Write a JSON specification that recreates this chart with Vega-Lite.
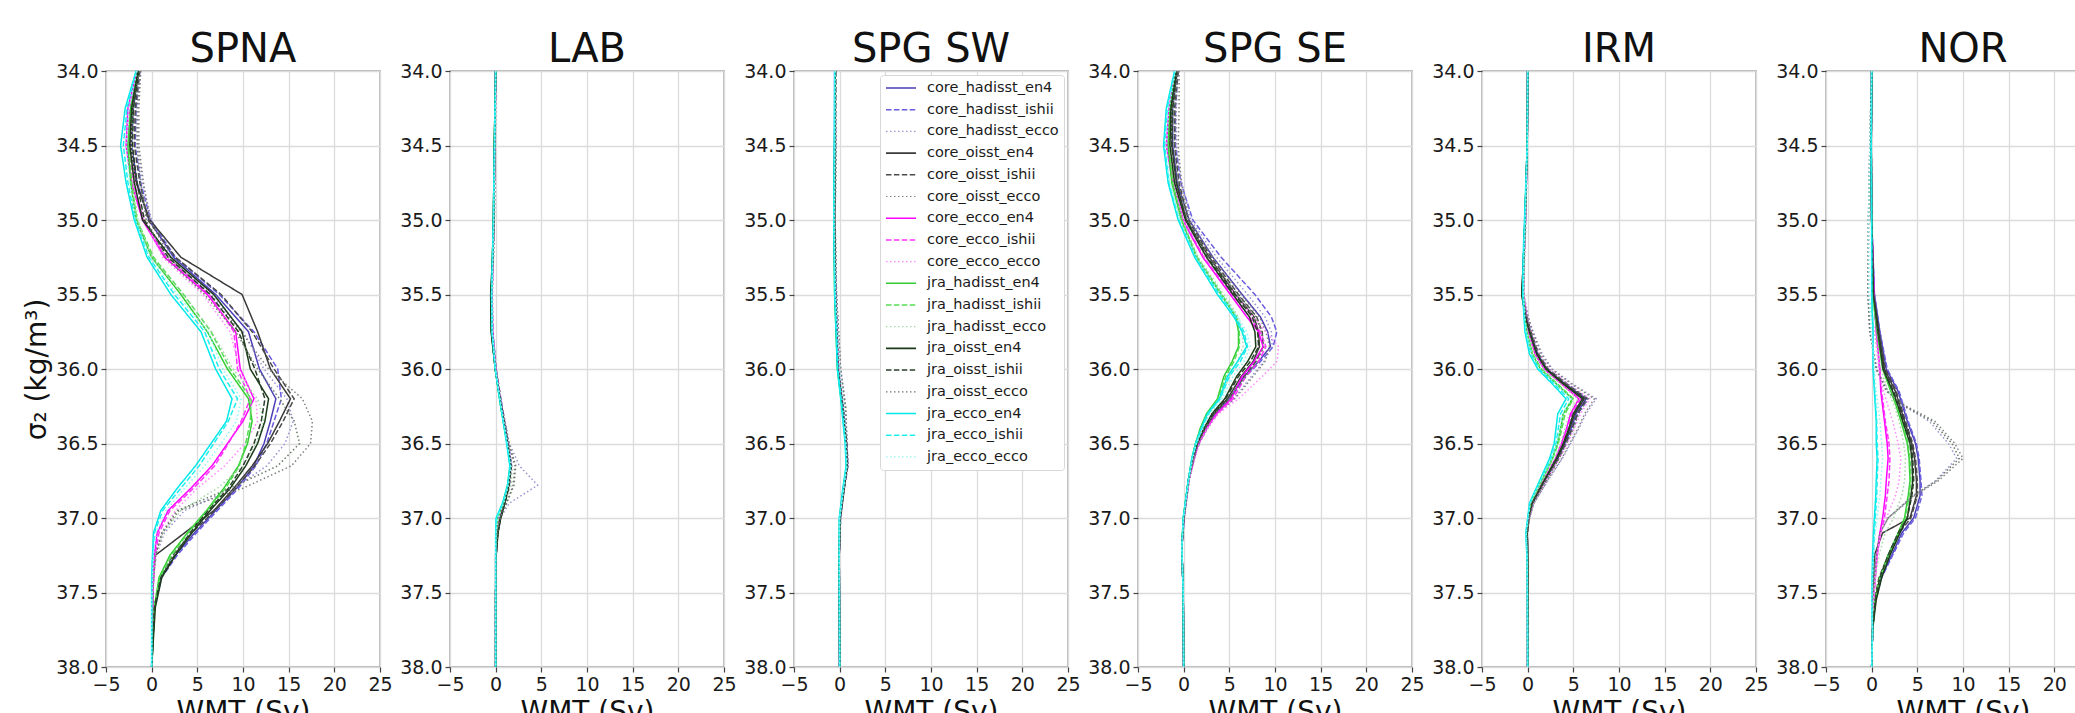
{
"$schema":"https://vega.github.io/schema/vega-lite/v6.json",
"background":"white",
"padding":{"left":23,"top":29,"right":0,"bottom":0},
"bounds":"flush",
"spacing":70,
"datasets":{"wmt":[
{"reg":"SPNA","y":34,"a":-1.4,"b":-1.3,"c":-1.2,"d":-1.4,"e":-1.3,"f":-1.2,"g":-1.6,"h":-1.5,"i":-1.4,"j":-1.5,"k":-1.5,"l":-1.4,"m":-1.5,"n":-1.4,"o":-1.3,"p":-1.7,"q":-1.7,"r":-1.6},
{"reg":"SPNA","y":34.25,"a":-2.0,"b":-1.7,"c":-1.5,"d":-2.1,"e":-1.8,"f":-1.4,"g":-2.6,"h":-2.4,"i":-2.2,"j":-2.3,"k":-2.2,"l":-2.0,"m":-2.2,"n":-2.0,"o":-1.6,"p":-2.9,"q":-2.7,"r":-2.5},
{"reg":"SPNA","y":34.5,"a":-2.2,"b":-1.8,"c":-1.5,"d":-2.3,"e":-1.9,"f":-1.4,"g":-2.8,"h":-2.6,"i":-2.3,"j":-2.6,"k":-2.5,"l":-2.2,"m":-2.4,"n":-2.1,"o":-1.6,"p":-3.4,"q":-3.1,"r":-2.8},
{"reg":"SPNA","y":34.75,"a":-1.6,"b":-1.2,"c":-1.0,"d":-1.7,"e":-1.3,"f":-0.9,"g":-2.2,"h":-2.0,"i":-1.8,"j":-2.3,"k":-2.2,"l":-2.0,"m":-1.9,"n":-1.6,"o":-1.2,"p":-2.8,"q":-2.6,"r":-2.4},
{"reg":"SPNA","y":35,"a":-0.3,"b":-0.1,"c":0,"d":-0.2,"e":-0.4,"f":-0.2,"g":-1.0,"h":-0.9,"i":-0.8,"j":-1.7,"k":-1.6,"l":-1.5,"m":-1.0,"n":-0.8,"o":-0.6,"p":-1.9,"q":-1.8,"r":-1.7},
{"reg":"SPNA","y":35.25,"a":2.4,"b":2.6,"c":2.2,"d":3.2,"e":2.6,"f":2.0,"g":1.4,"h":1.6,"i":1.2,"j":0,"k":0.2,"l":0,"m":2.1,"n":1.8,"o":1.5,"p":-0.5,"q":-0.3,"r":-0.2},
{"reg":"SPNA","y":35.5,"a":7.0,"b":7.4,"c":6.5,"d":9.9,"e":7.6,"f":6.2,"g":6.1,"h":6.3,"i":5.6,"j":3.2,"k":3.5,"l":3.4,"m":6.8,"n":6.4,"o":5.8,"p":2.1,"q":2.5,"r":2.8},
{"reg":"SPNA","y":35.75,"a":10.6,"b":11.2,"c":10.0,"d":11.6,"e":11.0,"f":9.8,"g":9.2,"h":9.0,"i":8.6,"j":6.1,"k":6.5,"l":6.6,"m":9.9,"n":9.5,"o":9.2,"p":5.4,"q":5.8,"r":6.2},
{"reg":"SPNA","y":36,"a":11.8,"b":13.8,"c":12.3,"d":13.0,"e":13.4,"f":12.8,"g":9.7,"h":9.4,"i":9.6,"j":8.3,"k":8.6,"l":8.9,"m":10.8,"n":11.3,"o":11.6,"p":7.0,"q":7.4,"r":7.8},
{"reg":"SPNA","y":36.2,"a":13.6,"b":14.2,"c":14.8,"d":15.2,"e":15.6,"f":16.5,"g":11.2,"h":10.8,"i":11.4,"j":10.6,"k":10.9,"l":11.6,"m":12.8,"n":12.4,"o":14.0,"p":8.8,"q":9.4,"r":9.8},
{"reg":"SPNA","y":36.35,"a":13.0,"b":13.4,"c":15.5,"d":14.0,"e":14.4,"f":17.6,"g":10.0,"h":9.8,"i":11.6,"j":11.0,"k":10.8,"l":12.3,"m":12.4,"n":12.0,"o":15.6,"p":8.2,"q":8.4,"r":9.3},
{"reg":"SPNA","y":36.5,"a":12.3,"b":12.6,"c":14.6,"d":12.7,"e":13.0,"f":17.4,"g":8.3,"h":8.4,"i":10.2,"j":10.5,"k":10.3,"l":11.4,"m":11.6,"n":11.2,"o":16.2,"p":6.5,"q":6.8,"r":7.6},
{"reg":"SPNA","y":36.65,"a":11.2,"b":11.4,"c":12.6,"d":11.0,"e":11.3,"f":15.3,"g":6.6,"h":6.9,"i":8.0,"j":9.5,"k":9.6,"l":10.0,"m":10.3,"n":10.0,"o":13.8,"p":4.8,"q":5.2,"r":5.8},
{"reg":"SPNA","y":36.8,"a":9.3,"b":9.5,"c":9.0,"d":9.0,"e":9.2,"f":10.0,"g":4.3,"h":4.6,"i":5.0,"j":7.9,"k":8.1,"l":7.2,"m":8.6,"n":8.4,"o":8.6,"p":2.8,"q":3.2,"r":3.6},
{"reg":"SPNA","y":36.95,"a":7.0,"b":7.2,"c":3.6,"d":6.8,"e":6.9,"f":3.0,"g":1.8,"h":2.0,"i":2.6,"j":6.0,"k":6.1,"l":3.2,"m":6.4,"n":6.2,"o":2.8,"p":1.0,"q":1.2,"r":1.6},
{"reg":"SPNA","y":37.1,"a":4.7,"b":4.9,"c":1.4,"d":3.6,"e":4.4,"f":1.2,"g":0.6,"h":0.8,"i":1.1,"j":3.9,"k":4.0,"l":1.2,"m":4.4,"n":4.2,"o":1.1,"p":0.2,"q":0.3,"r":0.5},
{"reg":"SPNA","y":37.25,"a":2.6,"b":2.8,"c":0.5,"d":0.4,"e":2.3,"f":0.4,"g":0.3,"h":0.4,"i":0.5,"j":2.0,"k":2.2,"l":0.5,"m":2.6,"n":2.5,"o":0.4,"p":0.1,"q":0.1,"r":0.2},
{"reg":"SPNA","y":37.4,"a":1.0,"b":1.1,"c":0.2,"d":0.2,"e":0.9,"f":0.2,"g":0.2,"h":0.2,"i":0.2,"j":0.8,"k":0.9,"l":0.2,"m":1.1,"n":1.0,"o":0.2,"p":0,"q":0,"r":0.1},
{"reg":"SPNA","y":37.6,"a":0.3,"b":0.3,"c":0.1,"d":0.1,"e":0.3,"f":0.1,"g":0.1,"h":0.1,"i":0.1,"j":0.3,"k":0.3,"l":0.1,"m":0.4,"n":0.3,"o":0.1,"p":0,"q":0,"r":0},
{"reg":"SPNA","y":38,"a":0,"b":0,"c":0,"d":0,"e":0,"f":0,"g":0,"h":0,"i":0,"j":0,"k":0,"l":0,"m":0,"n":0,"o":0,"p":0,"q":0,"r":0},

{"reg":"LAB","y":34,"a":0,"b":0,"c":0,"d":0,"e":0,"f":0,"g":0,"h":0,"i":0,"j":0,"k":0,"l":0,"m":0,"n":0,"o":0,"p":0,"q":0,"r":0},
{"reg":"LAB","y":34.5,"a":-0.1,"b":-0.1,"c":-0.05,"d":-0.15,"e":-0.1,"f":-0.05,"g":-0.1,"h":-0.1,"i":-0.05,"j":-0.15,"k":-0.1,"l":-0.1,"m":-0.15,"n":-0.1,"o":-0.05,"p":-0.15,"q":-0.1,"r":-0.1},
{"reg":"LAB","y":35,"a":-0.2,"b":-0.2,"c":-0.15,"d":-0.25,"e":-0.2,"f":-0.15,"g":-0.2,"h":-0.2,"i":-0.15,"j":-0.25,"k":-0.2,"l":-0.2,"m":-0.25,"n":-0.2,"o":-0.15,"p":-0.25,"q":-0.25,"r":-0.2},
{"reg":"LAB","y":35.25,"a":-0.3,"b":-0.3,"c":-0.25,"d":-0.35,"e":-0.3,"f":-0.25,"g":-0.3,"h":-0.3,"i":-0.25,"j":-0.35,"k":-0.3,"l":-0.3,"m":-0.35,"n":-0.3,"o":-0.25,"p":-0.35,"q":-0.35,"r":-0.3},
{"reg":"LAB","y":35.5,"a":-0.45,"b":-0.4,"c":-0.35,"d":-0.5,"e":-0.45,"f":-0.4,"g":-0.4,"h":-0.4,"i":-0.35,"j":-0.5,"k":-0.45,"l":-0.45,"m":-0.55,"n":-0.5,"o":-0.4,"p":-0.45,"q":-0.45,"r":-0.4},
{"reg":"LAB","y":35.75,"a":-0.35,"b":-0.3,"c":-0.3,"d":-0.45,"e":-0.4,"f":-0.3,"g":-0.35,"h":-0.35,"i":-0.3,"j":-0.45,"k":-0.4,"l":-0.4,"m":-0.5,"n":-0.45,"o":-0.35,"p":-0.4,"q":-0.4,"r":-0.35},
{"reg":"LAB","y":36,"a":0,"b":0.05,"c":0.05,"d":-0.05,"e":0,"f":0.05,"g":0,"h":0,"i":0.05,"j":-0.05,"k":-0.05,"l":0,"m":-0.05,"n":-0.05,"o":0.05,"p":-0.05,"q":-0.05,"r":0},
{"reg":"LAB","y":36.25,"a":0.65,"b":0.7,"c":0.7,"d":0.6,"e":0.65,"f":0.7,"g":0.6,"h":0.6,"i":0.65,"j":0.55,"k":0.55,"l":0.6,"m":0.6,"n":0.6,"o":0.65,"p":0.55,"q":0.55,"r":0.6},
{"reg":"LAB","y":36.5,"a":1.35,"b":1.4,"c":1.5,"d":1.3,"e":1.35,"f":1.45,"g":1.3,"h":1.3,"i":1.4,"j":1.25,"k":1.25,"l":1.35,"m":1.3,"n":1.3,"o":1.45,"p":1.2,"q":1.25,"r":1.3},
{"reg":"LAB","y":36.65,"a":1.7,"b":1.75,"c":2.6,"d":1.65,"e":1.7,"f":2.1,"g":1.65,"h":1.65,"i":1.8,"j":1.6,"k":1.6,"l":1.8,"m":1.65,"n":1.7,"o":2.2,"p":1.55,"q":1.6,"r":1.7},
{"reg":"LAB","y":36.78,"a":1.4,"b":1.45,"c":4.6,"d":1.4,"e":1.45,"f":1.9,"g":1.35,"h":1.4,"i":1.6,"j":1.3,"k":1.35,"l":1.7,"m":1.45,"n":1.5,"o":2.0,"p":1.3,"q":1.3,"r":1.4},
{"reg":"LAB","y":36.9,"a":0.9,"b":0.95,"c":1.5,"d":1.0,"e":1.0,"f":1.2,"g":0.85,"h":0.9,"i":1.0,"j":0.8,"k":0.85,"l":1.0,"m":1.0,"n":1.0,"o":1.2,"p":0.75,"q":0.8,"r":0.9},
{"reg":"LAB","y":37,"a":0.45,"b":0.5,"c":0.5,"d":0.55,"e":0.5,"f":0.5,"g":0.3,"h":0.35,"i":0.4,"j":0.2,"k":0.25,"l":0.35,"m":0.55,"n":0.5,"o":0.5,"p":0.05,"q":0.1,"r":0.2},
{"reg":"LAB","y":37.1,"a":0.2,"b":0.2,"c":0.2,"d":0.25,"e":0.2,"f":0.2,"g":0.1,"h":0.1,"i":0.15,"j":0.05,"k":0.1,"l":0.1,"m":0.25,"n":0.2,"o":0.2,"p":0,"q":0,"r":0.05},
{"reg":"LAB","y":37.25,"a":0.05,"b":0.05,"c":0.05,"d":0.05,"e":0.05,"f":0.05,"g":0,"h":0,"i":0,"j":0,"k":0,"l":0,"m":0.05,"n":0.05,"o":0.05,"p":0,"q":0,"r":0},
{"reg":"LAB","y":37.5,"a":0,"b":0,"c":0,"d":0,"e":0,"f":0,"g":0,"h":0,"i":0,"j":0,"k":0,"l":0,"m":0,"n":0,"o":0,"p":0,"q":0,"r":0},
{"reg":"LAB","y":38,"a":0,"b":0,"c":0,"d":0,"e":0,"f":0,"g":0,"h":0,"i":0,"j":0,"k":0,"l":0,"m":0,"n":0,"o":0,"p":0,"q":0,"r":0},

{"reg":"SPG SW","y":34,"a":-0.5,"b":-0.45,"c":-0.45,"d":-0.5,"e":-0.45,"f":-0.45,"g":-0.55,"h":-0.5,"i":-0.5,"j":-0.5,"k":-0.5,"l":-0.45,"m":-0.5,"n":-0.45,"o":-0.45,"p":-0.55,"q":-0.55,"r":-0.5},
{"reg":"SPG SW","y":34.5,"a":-0.5,"b":-0.45,"c":-0.4,"d":-0.55,"e":-0.5,"f":-0.4,"g":-0.55,"h":-0.5,"i":-0.45,"j":-0.55,"k":-0.5,"l":-0.45,"m":-0.55,"n":-0.5,"o":-0.4,"p":-0.6,"q":-0.55,"r":-0.5},
{"reg":"SPG SW","y":35,"a":-0.6,"b":-0.55,"c":-0.5,"d":-0.6,"e":-0.55,"f":-0.5,"g":-0.65,"h":-0.6,"i":-0.55,"j":-0.65,"k":-0.6,"l":-0.55,"m":-0.6,"n":-0.55,"o":-0.5,"p":-0.65,"q":-0.65,"r":-0.6},
{"reg":"SPG SW","y":35.5,"a":-0.45,"b":-0.4,"c":-0.35,"d":-0.5,"e":-0.45,"f":-0.35,"g":-0.5,"h":-0.45,"i":-0.4,"j":-0.55,"k":-0.5,"l":-0.45,"m":-0.5,"n":-0.45,"o":-0.35,"p":-0.55,"q":-0.5,"r":-0.45},
{"reg":"SPG SW","y":36,"a":-0.15,"b":-0.1,"c":0.1,"d":-0.2,"e":-0.15,"f":0.1,"g":-0.15,"h":-0.1,"i":0.05,"j":-0.25,"k":-0.2,"l":0,"m":-0.2,"n":-0.15,"o":0.1,"p":-0.25,"q":-0.2,"r":0},
{"reg":"SPG SW","y":36.25,"a":0.35,"b":0.4,"c":0.65,"d":0.3,"e":0.35,"f":0.65,"g":0.3,"h":0.35,"i":0.55,"j":0.25,"k":0.3,"l":0.5,"m":0.3,"n":0.35,"o":0.6,"p":0.2,"q":0.25,"r":0.45},
{"reg":"SPG SW","y":36.5,"a":0.75,"b":0.8,"c":0.8,"d":0.7,"e":0.75,"f":0.8,"g":0.7,"h":0.75,"i":0.8,"j":0.65,"k":0.7,"l":0.75,"m":0.7,"n":0.75,"o":0.8,"p":0.6,"q":0.65,"r":0.7},
{"reg":"SPG SW","y":36.65,"a":0.85,"b":0.9,"c":0.9,"d":0.8,"e":0.85,"f":0.9,"g":0.8,"h":0.85,"i":0.9,"j":0.75,"k":0.8,"l":0.85,"m":0.8,"n":0.85,"o":0.9,"p":0.7,"q":0.75,"r":0.8},
{"reg":"SPG SW","y":36.8,"a":0.45,"b":0.5,"c":0.5,"d":0.45,"e":0.5,"f":0.5,"g":0.4,"h":0.45,"i":0.5,"j":0.4,"k":0.4,"l":0.45,"m":0.45,"n":0.5,"o":0.5,"p":0.35,"q":0.4,"r":0.45},
{"reg":"SPG SW","y":37,"a":0.05,"b":0.1,"c":0.1,"d":0.05,"e":0.05,"f":0.1,"g":0,"h":0.05,"i":0.05,"j":0,"k":0,"l":0.05,"m":0.05,"n":0.05,"o":0.1,"p":-0.05,"q":0,"r":0},
{"reg":"SPG SW","y":37.25,"a":-0.05,"b":-0.05,"c":-0.05,"d":-0.05,"e":-0.05,"f":-0.05,"g":-0.05,"h":-0.05,"i":-0.05,"j":-0.05,"k":-0.05,"l":-0.05,"m":-0.05,"n":-0.05,"o":-0.05,"p":-0.05,"q":-0.05,"r":-0.05},
{"reg":"SPG SW","y":38,"a":0,"b":0,"c":0,"d":0,"e":0,"f":0,"g":0,"h":0,"i":0,"j":0,"k":0,"l":0,"m":0,"n":0,"o":0,"p":0,"q":0,"r":0},

{"reg":"SPG SE","y":34,"a":-0.7,"b":-0.6,"c":-0.6,"d":-0.7,"e":-0.6,"f":-0.5,"g":-0.9,"h":-0.85,"i":-0.8,"j":-0.85,"k":-0.8,"l":-0.75,"m":-0.8,"n":-0.75,"o":-0.7,"p":-1.0,"q":-0.95,"r":-0.9},
{"reg":"SPG SE","y":34.25,"a":-1.2,"b":-0.9,"c":-0.8,"d":-1.3,"e":-1.0,"f":-0.5,"g":-1.6,"h":-1.5,"i":-1.3,"j":-1.5,"k":-1.4,"l":-1.2,"m":-1.4,"n":-1.2,"o":-0.9,"p":-1.9,"q":-1.8,"r":-1.6},
{"reg":"SPG SE","y":34.5,"a":-1.2,"b":-0.9,"c":-0.8,"d":-1.3,"e":-1.0,"f":-0.6,"g":-1.9,"h":-1.8,"i":-1.6,"j":-1.7,"k":-1.6,"l":-1.4,"m":-1.5,"n":-1.3,"o":-1.0,"p":-2.2,"q":-2.1,"r":-1.9},
{"reg":"SPG SE","y":34.75,"a":-0.7,"b":-0.3,"c":-0.2,"d":-0.8,"e":-0.5,"f":-0.25,"g":-1.2,"h":-1.1,"i":-1.0,"j":-1.3,"k":-1.2,"l":-1.1,"m":-1.0,"n":-0.8,"o":-0.6,"p":-1.7,"q":-1.6,"r":-1.5},
{"reg":"SPG SE","y":35,"a":0.6,"b":1.0,"c":0.8,"d":0.3,"e":0.5,"f":0.6,"g":-0.1,"h":0,"i":0.1,"j":-0.25,"k":-0.2,"l":-0.1,"m":0.2,"n":0.3,"o":0.4,"p":-0.6,"q":-0.5,"r":-0.4},
{"reg":"SPG SE","y":35.25,"a":3.2,"b":4.1,"c":3.6,"d":2.8,"e":3.0,"f":3.2,"g":2.1,"h":2.2,"i":2.3,"j":1.4,"k":1.5,"l":1.6,"m":2.5,"n":2.6,"o":2.7,"p":1.2,"q":1.3,"r":1.4},
{"reg":"SPG SE","y":35.5,"a":6.4,"b":7.8,"c":7.0,"d":5.7,"e":6.0,"f":6.3,"g":5.1,"h":5.3,"i":5.6,"j":4.1,"k":4.2,"l":4.4,"m":5.4,"n":5.6,"o":5.9,"p":3.7,"q":3.9,"r":4.1},
{"reg":"SPG SE","y":35.65,"a":8.4,"b":9.6,"c":8.9,"d":7.7,"e":8.0,"f":8.3,"g":6.9,"h":7.2,"i":7.6,"j":5.7,"k":5.8,"l":6.0,"m":7.2,"n":7.5,"o":7.9,"p":5.5,"q":5.7,"r":5.9},
{"reg":"SPG SE","y":35.75,"a":9.2,"b":10.2,"c":9.6,"d":8.2,"e":8.6,"f":9.0,"g":8.2,"h":8.4,"i":9.0,"j":6.0,"k":6.1,"l":6.4,"m":7.8,"n":8.1,"o":8.5,"p":6.4,"q":6.6,"r":6.9},
{"reg":"SPG SE","y":35.85,"a":9.5,"b":9.8,"c":9.7,"d":8.3,"e":8.7,"f":9.4,"g":8.7,"h":9.0,"i":10.4,"j":6.0,"k":6.1,"l":6.5,"m":7.9,"n":8.2,"o":8.8,"p":6.9,"q":7.0,"r":7.3},
{"reg":"SPG SE","y":35.95,"a":8.2,"b":8.4,"c":8.8,"d":7.6,"e":7.9,"f":8.9,"g":7.7,"h":8.2,"i":10.2,"j":5.3,"k":5.5,"l":5.9,"m":7.0,"n":7.3,"o":8.0,"p":5.9,"q":6.2,"r":6.6},
{"reg":"SPG SE","y":36.05,"a":6.6,"b":6.8,"c":7.4,"d":6.3,"e":6.6,"f":7.6,"g":6.4,"h":6.8,"i":8.6,"j":4.4,"k":4.6,"l":5.0,"m":5.8,"n":6.0,"o":6.8,"p":4.8,"q":5.0,"r":5.4},
{"reg":"SPG SE","y":36.2,"a":5.0,"b":5.1,"c":5.5,"d":4.8,"e":5.0,"f":5.6,"g":5.2,"h":5.4,"i":6.0,"j":3.7,"k":3.8,"l":4.0,"m":4.5,"n":4.6,"o":5.0,"p":3.9,"q":4.0,"r":4.2},
{"reg":"SPG SE","y":36.3,"a":3.4,"b":3.5,"c":3.7,"d":3.3,"e":3.4,"f":3.7,"g":3.6,"h":3.7,"i":3.8,"j":2.5,"k":2.6,"l":2.8,"m":3.1,"n":3.2,"o":3.4,"p":2.6,"q":2.7,"r":2.9},
{"reg":"SPG SE","y":36.4,"a":2.4,"b":2.5,"c":2.6,"d":2.4,"e":2.4,"f":2.6,"g":2.5,"h":2.5,"i":2.6,"j":1.8,"k":1.9,"l":2.0,"m":2.2,"n":2.3,"o":2.4,"p":1.9,"q":2.0,"r":2.1},
{"reg":"SPG SE","y":36.5,"a":1.6,"b":1.7,"c":1.7,"d":1.6,"e":1.6,"f":1.7,"g":1.6,"h":1.6,"i":1.7,"j":1.3,"k":1.3,"l":1.4,"m":1.5,"n":1.5,"o":1.6,"p":1.3,"q":1.4,"r":1.4},
{"reg":"SPG SE","y":36.6,"a":1.1,"b":1.1,"c":1.2,"d":1.1,"e":1.1,"f":1.2,"g":1.1,"h":1.1,"i":1.2,"j":0.9,"k":0.9,"l":1.0,"m":1.0,"n":1.0,"o":1.1,"p":0.9,"q":0.9,"r":1.0},
{"reg":"SPG SE","y":36.75,"a":0.55,"b":0.55,"c":0.6,"d":0.55,"e":0.55,"f":0.6,"g":0.55,"h":0.55,"i":0.6,"j":0.5,"k":0.5,"l":0.55,"m":0.5,"n":0.5,"o":0.55,"p":0.5,"q":0.5,"r":0.55},
{"reg":"SPG SE","y":37,"a":0.05,"b":0.05,"c":0.05,"d":0,"e":0,"f":0.05,"g":0,"h":0,"i":0.05,"j":-0.05,"k":-0.05,"l":0,"m":0,"n":0,"o":0,"p":-0.05,"q":-0.05,"r":0},
{"reg":"SPG SE","y":37.2,"a":-0.2,"b":-0.2,"c":-0.2,"d":-0.2,"e":-0.2,"f":-0.2,"g":-0.2,"h":-0.2,"i":-0.2,"j":-0.2,"k":-0.2,"l":-0.2,"m":-0.2,"n":-0.2,"o":-0.2,"p":-0.2,"q":-0.2,"r":-0.2},
{"reg":"SPG SE","y":37.5,"a":-0.05,"b":-0.05,"c":-0.05,"d":-0.05,"e":-0.05,"f":-0.05,"g":-0.05,"h":-0.05,"i":-0.05,"j":-0.05,"k":-0.05,"l":-0.05,"m":-0.05,"n":-0.05,"o":-0.05,"p":-0.05,"q":-0.05,"r":-0.05},
{"reg":"SPG SE","y":38,"a":0,"b":0,"c":0,"d":0,"e":0,"f":0,"g":0,"h":0,"i":0,"j":0,"k":0,"l":0,"m":0,"n":0,"o":0,"p":0,"q":0,"r":0},

{"reg":"IRM","y":34,"a":0,"b":0,"c":0,"d":0,"e":0,"f":0,"g":0,"h":0,"i":0,"j":0,"k":0,"l":0,"m":0,"n":0,"o":0,"p":0,"q":0,"r":0},
{"reg":"IRM","y":34.5,"a":-0.05,"b":-0.05,"c":-0.05,"d":-0.05,"e":-0.05,"f":-0.05,"g":-0.05,"h":-0.05,"i":-0.05,"j":-0.05,"k":-0.05,"l":-0.05,"m":-0.05,"n":-0.05,"o":-0.05,"p":-0.05,"q":-0.05,"r":-0.05},
{"reg":"IRM","y":35,"a":-0.25,"b":-0.25,"c":-0.2,"d":-0.3,"e":-0.25,"f":-0.2,"g":-0.25,"h":-0.25,"i":-0.2,"j":-0.3,"k":-0.25,"l":-0.25,"m":-0.3,"n":-0.3,"o":-0.25,"p":-0.35,"q":-0.3,"r":-0.25},
{"reg":"IRM","y":35.25,"a":-0.4,"b":-0.4,"c":-0.35,"d":-0.45,"e":-0.4,"f":-0.35,"g":-0.4,"h":-0.4,"i":-0.35,"j":-0.45,"k":-0.4,"l":-0.4,"m":-0.45,"n":-0.45,"o":-0.4,"p":-0.5,"q":-0.45,"r":-0.4},
{"reg":"IRM","y":35.5,"a":-0.5,"b":-0.45,"c":-0.4,"d":-0.65,"e":-0.6,"f":-0.5,"g":-0.45,"h":-0.45,"i":-0.4,"j":-0.5,"k":-0.45,"l":-0.45,"m":-0.65,"n":-0.6,"o":-0.55,"p":-0.55,"q":-0.5,"r":-0.45},
{"reg":"IRM","y":35.65,"a":-0.15,"b":-0.1,"c":0.05,"d":-0.2,"e":-0.1,"f":0.05,"g":-0.2,"h":-0.15,"i":0,"j":-0.3,"k":-0.3,"l":-0.2,"m":-0.25,"n":-0.2,"o":-0.05,"p":-0.4,"q":-0.35,"r":-0.3},
{"reg":"IRM","y":35.75,"a":0.3,"b":0.35,"c":0.6,"d":0.25,"e":0.35,"f":0.55,"g":0.1,"h":0.15,"i":0.4,"j":-0.1,"k":-0.1,"l":0.05,"m":0.2,"n":0.2,"o":0.4,"p":-0.3,"q":-0.2,"r":-0.15},
{"reg":"IRM","y":35.9,"a":1.1,"b":1.2,"c":1.6,"d":1.0,"e":1.2,"f":1.5,"g":0.8,"h":0.9,"i":1.3,"j":0.5,"k":0.55,"l":0.75,"m":1.0,"n":1.0,"o":1.25,"p":0.2,"q":0.35,"r":0.45},
{"reg":"IRM","y":36,"a":2.1,"b":2.25,"c":2.7,"d":2.05,"e":2.2,"f":2.6,"g":1.8,"h":1.9,"i":2.4,"j":1.4,"k":1.5,"l":1.75,"m":2.0,"n":2.05,"o":2.3,"p":1.1,"q":1.25,"r":1.4},
{"reg":"IRM","y":36.1,"a":4.1,"b":4.3,"c":4.9,"d":4.0,"e":4.25,"f":4.8,"g":3.7,"h":3.8,"i":4.45,"j":3.15,"k":3.25,"l":3.6,"m":3.9,"n":4.0,"o":4.35,"p":2.7,"q":2.9,"r":3.1},
{"reg":"IRM","y":36.2,"a":6.4,"b":6.6,"c":7.5,"d":6.2,"e":6.5,"f":7.3,"g":5.6,"h":5.8,"i":6.8,"j":4.9,"k":5.0,"l":5.5,"m":6.0,"n":6.1,"o":6.6,"p":4.2,"q":4.5,"r":4.8},
{"reg":"IRM","y":36.3,"a":5.3,"b":5.5,"c":6.4,"d":5.15,"e":5.45,"f":6.25,"g":4.7,"h":4.85,"i":5.8,"j":3.9,"k":4.1,"l":4.55,"m":5.0,"n":5.1,"o":5.6,"p":3.3,"q":3.6,"r":3.85},
{"reg":"IRM","y":36.4,"a":4.75,"b":4.9,"c":5.6,"d":4.6,"e":4.85,"f":5.5,"g":4.25,"h":4.35,"i":5.1,"j":3.6,"k":3.75,"l":4.1,"m":4.5,"n":4.55,"o":5.0,"p":3.1,"q":3.35,"r":3.55},
{"reg":"IRM","y":36.5,"a":4.05,"b":4.2,"c":4.7,"d":4.0,"e":4.15,"f":4.6,"g":3.7,"h":3.8,"i":4.35,"j":3.25,"k":3.35,"l":3.6,"m":3.9,"n":3.95,"o":4.25,"p":2.9,"q":3.1,"r":3.2},
{"reg":"IRM","y":36.6,"a":3.3,"b":3.4,"c":3.8,"d":3.25,"e":3.4,"f":3.75,"g":3.05,"h":3.1,"i":3.5,"j":2.7,"k":2.75,"l":2.95,"m":3.15,"n":3.2,"o":3.45,"p":2.4,"q":2.55,"r":2.65},
{"reg":"IRM","y":36.75,"a":1.9,"b":1.95,"c":2.2,"d":1.85,"e":1.95,"f":2.15,"g":1.7,"h":1.75,"i":2.0,"j":1.5,"k":1.55,"l":1.65,"m":1.8,"n":1.8,"o":2.0,"p":1.3,"q":1.4,"r":1.45},
{"reg":"IRM","y":36.9,"a":0.55,"b":0.55,"c":0.7,"d":0.5,"e":0.55,"f":0.7,"g":0.45,"h":0.45,"i":0.6,"j":0.3,"k":0.35,"l":0.4,"m":0.5,"n":0.5,"o":0.6,"p":0.2,"q":0.25,"r":0.3},
{"reg":"IRM","y":37,"a":0.15,"b":0.15,"c":0.2,"d":0.1,"e":0.15,"f":0.2,"g":0.1,"h":0.1,"i":0.15,"j":0.05,"k":0.05,"l":0.1,"m":0.1,"n":0.1,"o":0.15,"p":0,"q":0,"r":0.05},
{"reg":"IRM","y":37.1,"a":-0.05,"b":-0.05,"c":-0.05,"d":-0.05,"e":-0.05,"f":-0.05,"g":-0.05,"h":-0.05,"i":-0.05,"j":-0.05,"k":-0.05,"l":-0.05,"m":-0.05,"n":-0.05,"o":-0.05,"p":-0.2,"q":-0.18,"r":-0.15},
{"reg":"IRM","y":37.3,"a":0,"b":0,"c":0,"d":0,"e":0,"f":0,"g":0,"h":0,"i":0,"j":0,"k":0,"l":0,"m":0,"n":0,"o":0,"p":-0.05,"q":-0.05,"r":-0.05},
{"reg":"IRM","y":38,"a":0,"b":0,"c":0,"d":0,"e":0,"f":0,"g":0,"h":0,"i":0,"j":0,"k":0,"l":0,"m":0,"n":0,"o":0,"p":0,"q":0,"r":0},

{"reg":"NOR","y":34,"a":0,"b":0,"c":0,"d":0,"e":0,"f":0,"g":0,"h":0,"i":0,"j":0,"k":0,"l":0,"m":0,"n":0,"o":0,"p":0,"q":0,"r":0},
{"reg":"NOR","y":34.5,"a":-0.05,"b":-0.05,"c":-0.2,"d":-0.05,"e":-0.05,"f":-0.2,"g":-0.05,"h":-0.05,"i":-0.2,"j":-0.05,"k":-0.05,"l":-0.2,"m":-0.05,"n":-0.05,"o":-0.2,"p":-0.05,"q":-0.05,"r":-0.2},
{"reg":"NOR","y":35,"a":0,"b":0,"c":-0.35,"d":0,"e":0,"f":-0.35,"g":0,"h":0,"i":-0.35,"j":0,"k":0,"l":-0.35,"m":0,"n":0,"o":-0.35,"p":0,"q":0,"r":-0.35},
{"reg":"NOR","y":35.5,"a":0.3,"b":0.3,"c":-0.4,"d":0.2,"e":0.2,"f":-0.4,"g":0.25,"h":0.25,"i":-0.35,"j":0.1,"k":0.1,"l":-0.35,"m":0.2,"n":0.2,"o":-0.4,"p":0,"q":0,"r":-0.3},
{"reg":"NOR","y":35.75,"a":0.9,"b":0.9,"c":-0.2,"d":0.8,"e":0.8,"f":-0.2,"g":0.5,"h":0.5,"i":0.3,"j":0.6,"k":0.6,"l":0.3,"m":0.7,"n":0.7,"o":-0.2,"p":0.15,"q":0.15,"r":0},
{"reg":"NOR","y":36,"a":1.6,"b":1.7,"c":0.6,"d":1.4,"e":1.5,"f":0.5,"g":0.9,"h":0.85,"i":0.8,"j":1.2,"k":1.25,"l":1.0,"m":1.25,"n":1.3,"o":0.5,"p":0.15,"q":0.2,"r":0.3},
{"reg":"NOR","y":36.15,"a":2.9,"b":3.0,"c":1.8,"d":2.6,"e":2.7,"f":1.6,"g":1.0,"h":1.1,"i":1.3,"j":2.1,"k":2.2,"l":1.8,"m":2.3,"n":2.4,"o":1.7,"p":0.3,"q":0.35,"r":0.5},
{"reg":"NOR","y":36.25,"a":3.4,"b":3.5,"c":3.6,"d":3.1,"e":3.2,"f":3.8,"g":1.2,"h":1.3,"i":1.8,"j":2.7,"k":2.8,"l":2.5,"m":2.9,"n":3.0,"o":3.6,"p":0.4,"q":0.45,"r":0.7},
{"reg":"NOR","y":36.35,"a":3.9,"b":4.0,"c":6.3,"d":3.6,"e":3.7,"f":6.9,"g":1.4,"h":1.5,"i":2.3,"j":3.2,"k":3.3,"l":3.0,"m":3.4,"n":3.5,"o":6.6,"p":0.5,"q":0.55,"r":0.9},
{"reg":"NOR","y":36.5,"a":4.8,"b":4.9,"c":8.4,"d":4.4,"e":4.5,"f":9.1,"g":1.7,"h":1.9,"i":2.9,"j":3.9,"k":4.0,"l":3.5,"m":4.2,"n":4.3,"o":8.8,"p":0.5,"q":0.6,"r":1.1},
{"reg":"NOR","y":36.6,"a":5.1,"b":5.2,"c":9.3,"d":4.7,"e":4.8,"f":10.0,"g":1.8,"h":2.0,"i":3.2,"j":4.1,"k":4.2,"l":3.7,"m":4.4,"n":4.5,"o":9.6,"p":0.6,"q":0.7,"r":1.2},
{"reg":"NOR","y":36.75,"a":5.3,"b":5.4,"c":7.0,"d":4.9,"e":5.0,"f":7.3,"g":1.6,"h":1.9,"i":3.0,"j":4.2,"k":4.3,"l":3.6,"m":4.5,"n":4.6,"o":7.1,"p":0.5,"q":0.6,"r":1.0},
{"reg":"NOR","y":36.85,"a":5.3,"b":5.5,"c":4.5,"d":4.9,"e":5.0,"f":4.7,"g":1.5,"h":1.7,"i":2.6,"j":4.0,"k":4.1,"l":3.3,"m":4.3,"n":4.4,"o":4.6,"p":0.45,"q":0.55,"r":0.9},
{"reg":"NOR","y":37,"a":4.6,"b":4.8,"c":1.8,"d":4.2,"e":4.3,"f":1.8,"g":1.2,"h":1.4,"i":1.6,"j":3.6,"k":3.7,"l":2.4,"m":3.9,"n":3.9,"o":1.8,"p":0.3,"q":0.4,"r":0.6},
{"reg":"NOR","y":37.1,"a":3.3,"b":3.5,"c":0.9,"d":1.2,"e":3.0,"f":0.9,"g":0.9,"h":1.0,"i":1.0,"j":2.9,"k":3.0,"l":1.5,"m":3.1,"n":2.9,"o":0.9,"p":0.2,"q":0.3,"r":0.4},
{"reg":"NOR","y":37.25,"a":2.2,"b":2.3,"c":0.5,"d":0.3,"e":1.8,"f":0.5,"g":0.6,"h":0.6,"i":0.6,"j":1.8,"k":1.9,"l":0.8,"m":2.0,"n":1.8,"o":0.5,"p":0.1,"q":0.2,"r":0.2},
{"reg":"NOR","y":37.4,"a":1.0,"b":1.1,"c":0.3,"d":0.2,"e":0.8,"f":0.3,"g":0.4,"h":0.4,"i":0.4,"j":0.9,"k":0.9,"l":0.4,"m":1.1,"n":0.9,"o":0.3,"p":0.05,"q":0.1,"r":0.1},
{"reg":"NOR","y":37.55,"a":0.4,"b":0.4,"c":0.1,"d":0.1,"e":0.3,"f":0.1,"g":0.2,"h":0.2,"i":0.2,"j":0.4,"k":0.4,"l":0.2,"m":0.5,"n":0.4,"o":0.1,"p":0,"q":0,"r":0},
{"reg":"NOR","y":37.75,"a":0.1,"b":0.1,"c":0.1,"d":0.1,"e":0.1,"f":0.1,"g":0.1,"h":0.1,"i":0.1,"j":0.1,"k":0.1,"l":0.1,"m":0.1,"n":0.1,"o":0.1,"p":0.1,"q":0.1,"r":0.1},
{"reg":"NOR","y":38,"a":0,"b":0,"c":0,"d":0,"e":0,"f":0,"g":0,"h":0,"i":0,"j":0,"k":0,"l":0,"m":0,"n":0,"o":0,"p":0,"q":0,"r":0}
]},
"hconcat":[
{"width":274,"height":596,"title":"SPNA","data":{"name":"wmt"},
 "transform":[{"filter":"datum.reg=='SPNA'"},{"fold":["a","b","c","d","e","f","g","h","i","j","k","l","m","n","o","p","q","r"],"as":["k","x"]}],
 "mark":{"type":"line"},
 "encoding":{
  "x":{"field":"x","type":"quantitative","scale":{"domain":[-5,25],"nice":false,"zero":false},"axis":{"values":[-5,0,5,10,15,20,25],"title":"WMT (Sv)"}},
  "y":{"field":"y","type":"quantitative","scale":{"domain":[34,38],"reverse":true,"nice":false,"zero":false},"axis":{"values":[34,34.5,35,35.5,36,36.5,37,37.5,38],"format":".1f","title":"σ₂ (kg/m³)"}},
  "order":{"field":"y","type":"quantitative"},
  "color":{"field":"k","type":"nominal","scale":{"range":["#4b3fb5","#6a5ce0","#9a94d0","#3a3a3a","#4a4a4a","#808080","#ff00ff","#ff33ff","#ff88ff","#32cd32","#55dd55","#a8d8a8","#1a3a1a","#2a402a","#6a7a6a","#00e8e8","#20eeee","#90f4f4"]},"legend":null},
  "strokeDash":{"field":"k","type":"nominal","scale":{"range":[[1,0],[5.5,2.4],[1.5,2.5],[1,0],[5.5,2.4],[1.5,2.5],[1,0],[5.5,2.4],[1.5,2.5],[1,0],[5.5,2.4],[1.5,2.5],[1,0],[5.5,2.4],[1.5,2.5],[1,0],[5.5,2.4],[1.5,2.5]]},"legend":null},
  "strokeWidth":{"field":"k","type":"nominal","scale":{"type":"ordinal","range":[1.6,1.5,1.2,1.6,1.5,1.2,1.6,1.5,1.2,1.6,1.5,1.2,1.6,1.5,1.2,1.6,1.5,1.2]},"legend":null}
 }},
{"width":274,"height":596,"title":"LAB","data":{"name":"wmt"},
 "transform":[{"filter":"datum.reg=='LAB'"},{"fold":["a","b","c","d","e","f","g","h","i","j","k","l","m","n","o","p","q","r"],"as":["k","x"]}],
 "mark":{"type":"line"},
 "encoding":{
  "x":{"field":"x","type":"quantitative","scale":{"domain":[-5,25],"nice":false,"zero":false},"axis":{"values":[-5,0,5,10,15,20,25],"title":"WMT (Sv)"}},
  "y":{"field":"y","type":"quantitative","scale":{"domain":[34,38],"reverse":true,"nice":false,"zero":false},"axis":{"values":[34,34.5,35,35.5,36,36.5,37,37.5,38],"format":".1f","title":null}},
  "order":{"field":"y","type":"quantitative"},
  "color":{"field":"k","type":"nominal","scale":{"range":["#4b3fb5","#6a5ce0","#9a94d0","#3a3a3a","#4a4a4a","#808080","#ff00ff","#ff33ff","#ff88ff","#32cd32","#55dd55","#a8d8a8","#1a3a1a","#2a402a","#6a7a6a","#00e8e8","#20eeee","#90f4f4"]},"legend":null},
  "strokeDash":{"field":"k","type":"nominal","scale":{"range":[[1,0],[5.5,2.4],[1.5,2.5],[1,0],[5.5,2.4],[1.5,2.5],[1,0],[5.5,2.4],[1.5,2.5],[1,0],[5.5,2.4],[1.5,2.5],[1,0],[5.5,2.4],[1.5,2.5],[1,0],[5.5,2.4],[1.5,2.5]]},"legend":null},
  "strokeWidth":{"field":"k","type":"nominal","scale":{"type":"ordinal","range":[1.6,1.5,1.2,1.6,1.5,1.2,1.6,1.5,1.2,1.6,1.5,1.2,1.6,1.5,1.2,1.6,1.5,1.2]},"legend":null}
 }},
{"width":274,"height":596,"title":"SPG SW","data":{"name":"wmt"},
 "transform":[{"filter":"datum.reg=='SPG SW'"},{"fold":["a","b","c","d","e","f","g","h","i","j","k","l","m","n","o","p","q","r"],"as":["k","x"]}],
 "mark":{"type":"line"},
 "encoding":{
  "x":{"field":"x","type":"quantitative","scale":{"domain":[-5,25],"nice":false,"zero":false},"axis":{"values":[-5,0,5,10,15,20,25],"title":"WMT (Sv)"}},
  "y":{"field":"y","type":"quantitative","scale":{"domain":[34,38],"reverse":true,"nice":false,"zero":false},"axis":{"values":[34,34.5,35,35.5,36,36.5,37,37.5,38],"format":".1f","title":null}},
  "order":{"field":"y","type":"quantitative"},
  "color":{"field":"k","type":"nominal","scale":{"range":["#4b3fb5","#6a5ce0","#9a94d0","#3a3a3a","#4a4a4a","#808080","#ff00ff","#ff33ff","#ff88ff","#32cd32","#55dd55","#a8d8a8","#1a3a1a","#2a402a","#6a7a6a","#00e8e8","#20eeee","#90f4f4"]},
   "legend":{"orient":"top-right","offset":4,"title":null,"labelExpr":"['core_hadisst_en4','core_hadisst_ishii','core_hadisst_ecco','core_oisst_en4','core_oisst_ishii','core_oisst_ecco','core_ecco_en4','core_ecco_ishii','core_ecco_ecco','jra_hadisst_en4','jra_hadisst_ishii','jra_hadisst_ecco','jra_oisst_en4','jra_oisst_ishii','jra_oisst_ecco','jra_ecco_en4','jra_ecco_ishii','jra_ecco_ecco'][indexof('abcdefghijklmnopqr',datum.label)]","symbolType":"stroke","symbolSize":900,"clipHeight":16,"rowPadding":5.7,"labelOffset":10,"padding":5,"strokeColor":"#d8d8d8","fillColor":"white","cornerRadius":3}},
  "strokeDash":{"field":"k","type":"nominal","scale":{"range":[[1,0],[5.5,2.4],[1.5,2.5],[1,0],[5.5,2.4],[1.5,2.5],[1,0],[5.5,2.4],[1.5,2.5],[1,0],[5.5,2.4],[1.5,2.5],[1,0],[5.5,2.4],[1.5,2.5],[1,0],[5.5,2.4],[1.5,2.5]]},"legend":{"orient":"top-right","offset":4,"title":null}},
  "strokeWidth":{"field":"k","type":"nominal","scale":{"type":"ordinal","range":[1.6,1.5,1.2,1.6,1.5,1.2,1.6,1.5,1.2,1.6,1.5,1.2,1.6,1.5,1.2,1.6,1.5,1.2]},"legend":{"orient":"top-right","offset":4,"title":null}}
 }},
{"width":274,"height":596,"title":"SPG SE","data":{"name":"wmt"},
 "transform":[{"filter":"datum.reg=='SPG SE'"},{"fold":["a","b","c","d","e","f","g","h","i","j","k","l","m","n","o","p","q","r"],"as":["k","x"]}],
 "mark":{"type":"line"},
 "encoding":{
  "x":{"field":"x","type":"quantitative","scale":{"domain":[-5,25],"nice":false,"zero":false},"axis":{"values":[-5,0,5,10,15,20,25],"title":"WMT (Sv)"}},
  "y":{"field":"y","type":"quantitative","scale":{"domain":[34,38],"reverse":true,"nice":false,"zero":false},"axis":{"values":[34,34.5,35,35.5,36,36.5,37,37.5,38],"format":".1f","title":null}},
  "order":{"field":"y","type":"quantitative"},
  "color":{"field":"k","type":"nominal","scale":{"range":["#4b3fb5","#6a5ce0","#9a94d0","#3a3a3a","#4a4a4a","#808080","#ff00ff","#ff33ff","#ff88ff","#32cd32","#55dd55","#a8d8a8","#1a3a1a","#2a402a","#6a7a6a","#00e8e8","#20eeee","#90f4f4"]},"legend":null},
  "strokeDash":{"field":"k","type":"nominal","scale":{"range":[[1,0],[5.5,2.4],[1.5,2.5],[1,0],[5.5,2.4],[1.5,2.5],[1,0],[5.5,2.4],[1.5,2.5],[1,0],[5.5,2.4],[1.5,2.5],[1,0],[5.5,2.4],[1.5,2.5],[1,0],[5.5,2.4],[1.5,2.5]]},"legend":null},
  "strokeWidth":{"field":"k","type":"nominal","scale":{"type":"ordinal","range":[1.6,1.5,1.2,1.6,1.5,1.2,1.6,1.5,1.2,1.6,1.5,1.2,1.6,1.5,1.2,1.6,1.5,1.2]},"legend":null}
 }},
{"width":274,"height":596,"title":"IRM","data":{"name":"wmt"},
 "transform":[{"filter":"datum.reg=='IRM'"},{"fold":["a","b","c","d","e","f","g","h","i","j","k","l","m","n","o","p","q","r"],"as":["k","x"]}],
 "mark":{"type":"line"},
 "encoding":{
  "x":{"field":"x","type":"quantitative","scale":{"domain":[-5,25],"nice":false,"zero":false},"axis":{"values":[-5,0,5,10,15,20,25],"title":"WMT (Sv)"}},
  "y":{"field":"y","type":"quantitative","scale":{"domain":[34,38],"reverse":true,"nice":false,"zero":false},"axis":{"values":[34,34.5,35,35.5,36,36.5,37,37.5,38],"format":".1f","title":null}},
  "order":{"field":"y","type":"quantitative"},
  "color":{"field":"k","type":"nominal","scale":{"range":["#4b3fb5","#6a5ce0","#9a94d0","#3a3a3a","#4a4a4a","#808080","#ff00ff","#ff33ff","#ff88ff","#32cd32","#55dd55","#a8d8a8","#1a3a1a","#2a402a","#6a7a6a","#00e8e8","#20eeee","#90f4f4"]},"legend":null},
  "strokeDash":{"field":"k","type":"nominal","scale":{"range":[[1,0],[5.5,2.4],[1.5,2.5],[1,0],[5.5,2.4],[1.5,2.5],[1,0],[5.5,2.4],[1.5,2.5],[1,0],[5.5,2.4],[1.5,2.5],[1,0],[5.5,2.4],[1.5,2.5],[1,0],[5.5,2.4],[1.5,2.5]]},"legend":null},
  "strokeWidth":{"field":"k","type":"nominal","scale":{"type":"ordinal","range":[1.6,1.5,1.2,1.6,1.5,1.2,1.6,1.5,1.2,1.6,1.5,1.2,1.6,1.5,1.2,1.6,1.5,1.2]},"legend":null}
 }},
{"width":274,"height":596,"title":"NOR","data":{"name":"wmt"},
 "transform":[{"filter":"datum.reg=='NOR'"},{"fold":["a","b","c","d","e","f","g","h","i","j","k","l","m","n","o","p","q","r"],"as":["k","x"]}],
 "mark":{"type":"line"},
 "encoding":{
  "x":{"field":"x","type":"quantitative","scale":{"domain":[-5,25],"nice":false,"zero":false},"axis":{"values":[-5,0,5,10,15,20,25],"title":"WMT (Sv)"}},
  "y":{"field":"y","type":"quantitative","scale":{"domain":[34,38],"reverse":true,"nice":false,"zero":false},"axis":{"values":[34,34.5,35,35.5,36,36.5,37,37.5,38],"format":".1f","title":null}},
  "order":{"field":"y","type":"quantitative"},
  "color":{"field":"k","type":"nominal","scale":{"range":["#4b3fb5","#6a5ce0","#9a94d0","#3a3a3a","#4a4a4a","#808080","#ff00ff","#ff33ff","#ff88ff","#32cd32","#55dd55","#a8d8a8","#1a3a1a","#2a402a","#6a7a6a","#00e8e8","#20eeee","#90f4f4"]},"legend":null},
  "strokeDash":{"field":"k","type":"nominal","scale":{"range":[[1,0],[5.5,2.4],[1.5,2.5],[1,0],[5.5,2.4],[1.5,2.5],[1,0],[5.5,2.4],[1.5,2.5],[1,0],[5.5,2.4],[1.5,2.5],[1,0],[5.5,2.4],[1.5,2.5],[1,0],[5.5,2.4],[1.5,2.5]]},"legend":null},
  "strokeWidth":{"field":"k","type":"nominal","scale":{"type":"ordinal","range":[1.6,1.5,1.2,1.6,1.5,1.2,1.6,1.5,1.2,1.6,1.5,1.2,1.6,1.5,1.2,1.6,1.5,1.2]},"legend":null}
 }}
],
"resolve":{"legend":{"color":"independent","strokeDash":"independent","strokeWidth":"independent"}},
"config":{
 "font":"DejaVu Sans",
 "view":{"stroke":"#6e6e6e","strokeWidth":1.3},
 "axis":{"grid":true,"gridColor":"#dcdcdc","gridWidth":1.3,"domain":false,"tickColor":"#444444","tickSize":5,"tickWidth":1.2,"labelFont":"DejaVu Sans","labelFontSize":19,"labelColor":"#1a1a1a","labelPadding":3,"titleFont":"DejaVu Sans","titleFontSize":28,"titleFontWeight":"normal","titleColor":"#111111","titlePadding":4,"labelFlush":false,"labelOverlap":false},
 "title":{"font":"DejaVu Sans","fontSize":40,"fontWeight":"normal","color":"#111111","baseline":"alphabetic","offset":-8},
 "legend":{"labelFont":"DejaVu Sans","labelFontSize":14.5,"labelColor":"#1a1a1a"},
 "line":{"strokeWidth":1.5}
}
}
